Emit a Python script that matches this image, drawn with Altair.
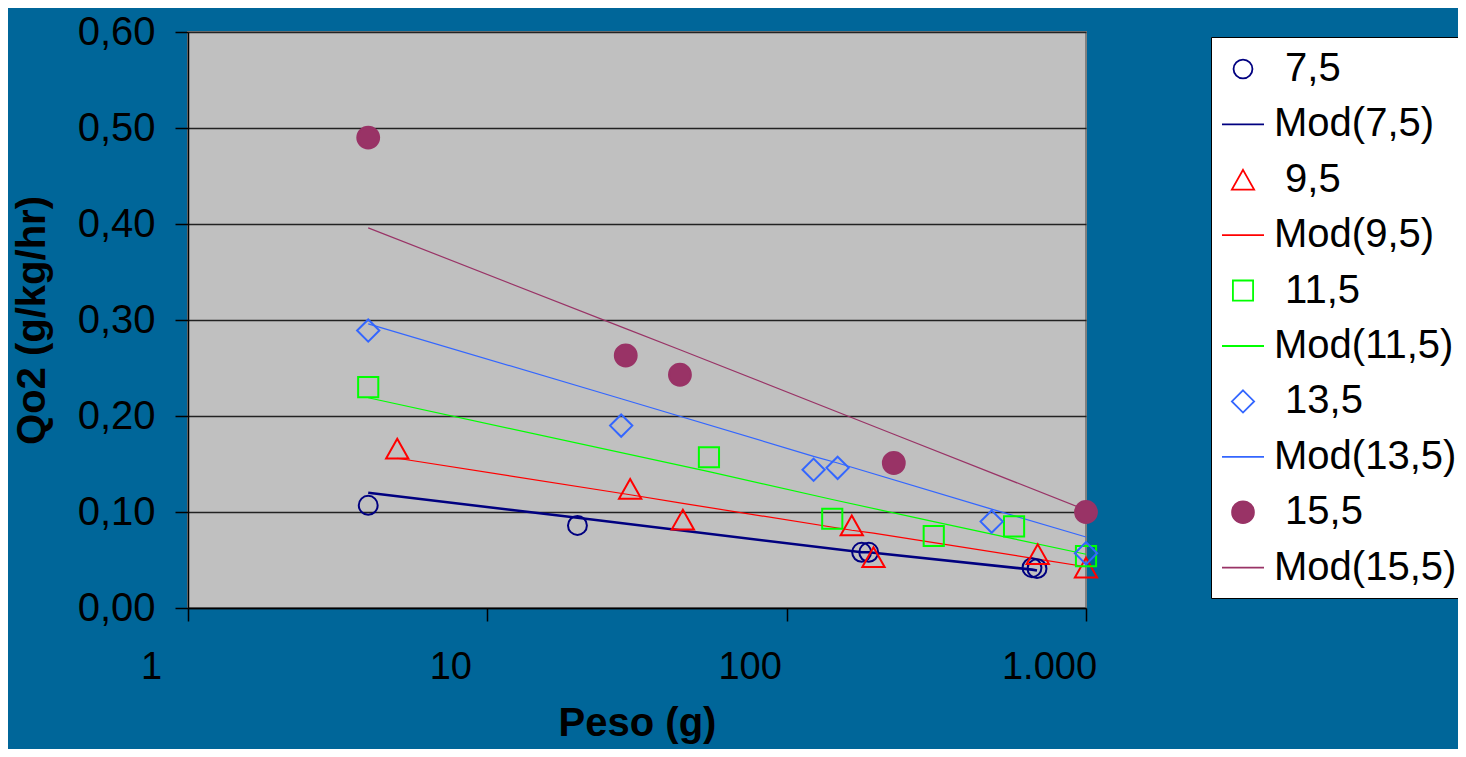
import altair as alt
import pandas as pd

# ---- data ----
series_names = ["7,5", "9,5", "11,5", "13,5", "15,5"]
model_names = ["Mod(7,5)", "Mod(9,5)", "Mod(11,5)", "Mod(13,5)", "Mod(15,5)"]

peso_75 = [4, 20, 178, 188, 660, 686]
qo2_75 = [0.107, 0.086, 0.058, 0.058, 0.042, 0.041]
mod_75 = [0.120, 0.094, 0.058, 0.058, 0.040, 0.039]

peso_95 = [5, 30, 45, 165, 195, 690, 1000]
qo2_95 = [0.166, 0.124, 0.092, 0.086, 0.053, 0.056, 0.042]
mod_95 = [0.156, 0.118, 0.109, 0.081, 0.078, 0.051, 0.043]

peso_115 = [4, 55, 142, 310, 575, 1000]
qo2_115 = [0.230, 0.157, 0.093, 0.075, 0.085, 0.054]
mod_115 = [0.219, 0.142, 0.113, 0.090, 0.072, 0.056]

peso_135 = [4, 28, 123, 148, 484, 1000]
qo2_135 = [0.289, 0.190, 0.144, 0.146, 0.090, 0.057]
mod_135 = [0.296, 0.218, 0.158, 0.151, 0.103, 0.074]

peso_155 = [4, 29, 44, 228, 1000]
qo2_155 = [0.490, 0.263, 0.243, 0.151, 0.100]
mod_155 = [0.396, 0.291, 0.269, 0.181, 0.102]

x_ticks = [1, 10, 100, 1000]
y_ticks = [0.0, 0.1, 0.2, 0.3, 0.4, 0.5, 0.6]

# ---- tables ----
pesos = [peso_75, peso_95, peso_115, peso_135, peso_155]
qo2s = [qo2_75, qo2_95, qo2_115, qo2_135, qo2_155]
mods = [mod_75, mod_95, mod_115, mod_135, mod_155]

pt_rows, ln_rows = [], []
for name, mname, xs, ys, ms in zip(series_names, model_names, pesos, qo2s, mods):
    for x, y in zip(xs, ys):
        pt_rows.append({"peso": x, "qo2": y, "serie": name})
    for x, m in zip(xs, ms):
        ln_rows.append({"peso": x, "qo2": m, "serie": mname})
points_df = pd.DataFrame(pt_rows)
lines_df = pd.DataFrame(ln_rows)

# ---- styles ----
NAVY, RED, GREEN, BLUE, PLUM = "#000080", "#FF0000", "#00FF00", "#3366FF", "#993366"


def circ(r):
    return f"M{r},0A{r},{r},0,1,1,{-r},0A{r},{r},0,1,1,{r},0Z"


marker_paths = [
    circ(0.45),
    "M0,-0.47L0.53,0.47L-0.53,0.47Z",
    "M-0.48,-0.48L0.48,-0.48L0.48,0.48L-0.48,0.48Z",
    "M0,-0.53L0.53,0L0,0.53L-0.53,0Z",
    circ(0.52),
]
marker_colors = [NAVY, RED, GREEN, BLUE, PLUM]
marker_fills = ["transparent", "transparent", "transparent", "transparent", PLUM]

all_names, all_colors, all_shapes, all_fills = [], [], [], []
for n, m, c, p, f in zip(series_names, model_names, marker_colors, marker_paths, marker_fills):
    all_names += [n, m]
    all_colors += [c, c]
    all_shapes += [p, "stroke"]
    all_fills += [f, "transparent"]

FONT = "Liberation Sans"

legend = alt.Legend(
    title=None,
    orient="none",
    legendX=1023,
    legendY=5,
    direction="vertical",
    fillColor="white",
    strokeColor="black",
    padding=10,
    rowPadding=13.4,
    labelFont=FONT,
    labelFontSize=40,
    labelColor="black",
    labelLimit=600,
    labelOffset=9,
    symbolSize=1764,
    symbolStrokeWidth=1.8,
    labelExpr="indexof(datum.label, 'Mod') < 0 ? '\u200b\u00a0' + datum.label : datum.label",
)

stroke_enc = alt.Stroke(
    "serie:N", scale=alt.Scale(domain=all_names, range=all_colors), legend=legend
)
fill_enc = alt.Fill(
    "serie:N", scale=alt.Scale(domain=all_names, range=all_fills), legend=legend
)
shape_enc = alt.Shape(
    "serie:N", scale=alt.Scale(domain=all_names, range=all_shapes), legend=legend
)

x_enc = alt.X(
    "peso:Q",
    scale=alt.Scale(type="log", domain=[1, 1000]),
    axis=alt.Axis(
        values=x_ticks,
        labelExpr="replace(format(datum.value, ','), ',', '.')",
        grid=False,
        tickSize=13,
        tickColor="black",
        tickWidth=1.5,
        domainColor="black",
        domainWidth=1.5,
        labelFont=FONT,
        labelFontSize=38,
        labelColor="black",
        labelPadding=27,
        labelOffset=-37,
        labelFlush=False,
        labelOverlap=False,
        title="Peso (g)",
        titleFont=FONT,
        titleFontSize=40,
        titleFontWeight="bold",
        titleColor="black",
        titlePadding=17,
    ),
)

y_enc = alt.Y(
    "qo2:Q",
    scale=alt.Scale(domain=[0, 0.6], nice=False, zero=True),
    axis=alt.Axis(
        values=y_ticks,
        labelExpr="replace(format(datum.value, '.2f'), '.', ',')",
        grid=True,
        gridColor="#222222",
        gridWidth=1.5,
        tickSize=13,
        tickColor="black",
        tickWidth=1.5,
        domainColor="black",
        domainWidth=1.5,
        labelFont=FONT,
        labelFontSize=40,
        labelColor="black",
        labelPadding=20,
        labelFlush=False,
        labelOverlap=False,
        title="Qo2 (g/kg/hr)",
        titleFont=FONT,
        titleFontSize=40,
        titleFontWeight="bold",
        titleColor="black",
        titlePadding=25,
    ),
)

lines = alt.Chart(lines_df).mark_line(clip=False).encode(
    x=x_enc,
    y=y_enc,
    stroke=stroke_enc,
    strokeWidth=alt.StrokeWidthValue(
        1.2, condition={"test": "datum.serie == 'Mod(7,5)'", "value": 2.6}
    ),
)

points = alt.Chart(points_df).mark_point(
    filled=False, opacity=1, strokeWidth=2, size=1764, clip=False
).encode(
    x=x_enc,
    y=y_enc,
    stroke=stroke_enc,
    fill=fill_enc,
    shape=shape_enc,
)

chart = (
    alt.layer(lines, points)
    .properties(
        width=898,
        height=576,
        autosize=alt.AutoSizeParams(type="none"),
        padding={"left": 180, "top": 24, "right": 372, "bottom": 141},
        background="#006699",
    )
    .configure_view(fill="#C0C0C0", stroke="#808080", strokeWidth=2)
)

chart.save("out.html", embed_options={"renderer": "svg", "actions": False})
